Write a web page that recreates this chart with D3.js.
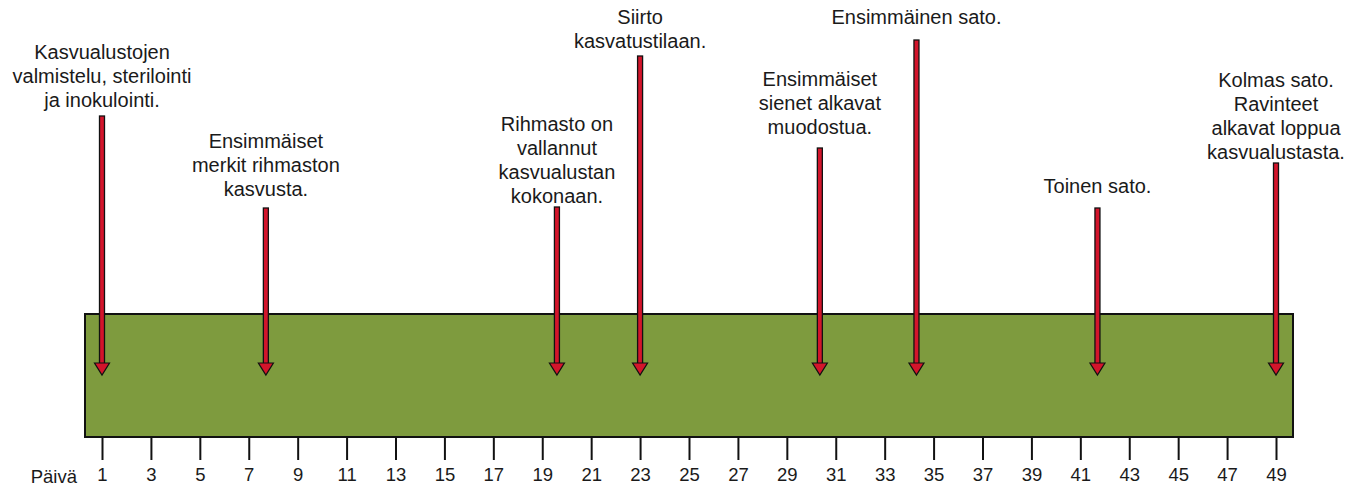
<!DOCTYPE html>
<html>
<head>
<meta charset="utf-8">
<script src="https://cdn.jsdelivr.net/npm/d3@7"></script>
<style>
  body { margin: 0; background: #fff; }
  svg text { font-family: "Liberation Sans", Arial, sans-serif; fill: #1a1a1a; }
</style>
</head>
<body>
<div id="chart"></div>
<script>
// events on the timeline (day of the cultivation)
const eventDays = [1, 7.7, 19.6, 23, 30.35, 34.3, 41.7, 49];
// how far up each arrow reaches, and where its text sits (same vertical scale)
const arrowReach = [259, 167, 168, 319, 227, 335, 167, 212];
const labelReach = [268, 179, 172, 327, 241, 351, 182, 216];
const eventLabels = [
    ["Kasvualustojen", "valmistelu, sterilointi", "ja inokulointi."],
    ["Ensimmäiset", "merkit rihmaston", "kasvusta."],
    ["Rihmasto on", "vallannut", "kasvualustan", "kokonaan."],
    ["Siirto", "kasvatustilaan."],
    ["Ensimmäiset", "sienet alkavat", "muodostua."],
    ["Ensimmäinen sato."],
    ["Toinen sato."],
    ["Kolmas sato.", "Ravinteet", "alkavat loppua", "kasvualustasta."]
];
const tickDays = d3.range(1, 50, 2);
const axisTitle = "Päivä";
const dayExtent = [1, 49];

const width = 1360, height = 488;

const svg = d3.select("#chart").append("svg")
    .attr("width", width)
    .attr("height", height);

let x = d3.scaleLinear().domain(dayExtent).range([102, 1276]);
// vertical scale: 0 = arrow tip level
let y = d3.scaleLinear().domain([0, 375]).range([375, 0]);

const barTop = 314, barBottom = 437;

// green substrate block
svg.append("rect")
    .attr("x", 85)
    .attr("y", barTop)
    .attr("width", 1293 - 85)
    .attr("height", barBottom - barTop)
    .attr("fill", "#7e9b3e")
    .attr("stroke", "#111")
    .attr("stroke-width", 2);

// axis below the block
let xAxis = d3.axisBottom(x)
    .tickValues(tickDays)
    .tickSize(23)
    .tickPadding(8)
    .tickFormat(d3.format("d"));

let axisG = svg.append("g")
    .attr("transform", `translate(0,${barBottom})`)
    .call(xAxis);
axisG.select(".domain").remove();
axisG.selectAll(".tick line").attr("stroke", "#111").attr("stroke-width", 2);
axisG.selectAll(".tick text")
    .style("font-family", "'Liberation Sans', Arial, sans-serif")
    .style("font-size", "18.5px")
    .attr("fill", "#1a1a1a");

svg.append("text")
    .attr("x", x(1) - 25)
    .attr("y", 483)
    .attr("text-anchor", "end")
    .style("font-size", "18.5px")
    .text(axisTitle);

// arrows
let events = eventDays.map((d, i) => ({ day: d, reach: arrowReach[i], label: labelReach[i], lines: eventLabels[i] }));

let arrows = svg.selectAll("g.arrow")
    .data(events)
    .join("g")
    .attr("class", "arrow")
    .attr("transform", d => `translate(${x(d.day)},0)`);

const headH = 12, headW = 7.5;

arrows.append("rect")
    .attr("x", -2.5)
    .attr("y", d => y(d.reach))
    .attr("width", 5)
    .attr("height", d => y(0) - headH + 1 - y(d.reach))
    .attr("fill", "#d3152b")
    .attr("stroke", "#111")
    .attr("stroke-width", 1.3);

arrows.append("path")
    .attr("d", `M${-headW},${y(0) - headH} L${headW},${y(0) - headH} L0,${y(0)} Z`)
    .attr("fill", "#d3152b")
    .attr("stroke", "#111")
    .attr("stroke-width", 1.2)
    .attr("stroke-linejoin", "miter");

// labels above the arrows, last line at the given level
const lineH = 24;
arrows.append("text")
    .attr("text-anchor", "middle")
    .style("font-size", "20px")
    .selectAll("tspan")
    .data(d => d.lines.map((l, i) => ({ text: l, y: y(d.label) - (d.lines.length - 1 - i) * lineH })))
    .join("tspan")
    .attr("x", 0)
    .attr("y", d => d.y)
    .text(d => d.text);
</script>
</body>
</html>
